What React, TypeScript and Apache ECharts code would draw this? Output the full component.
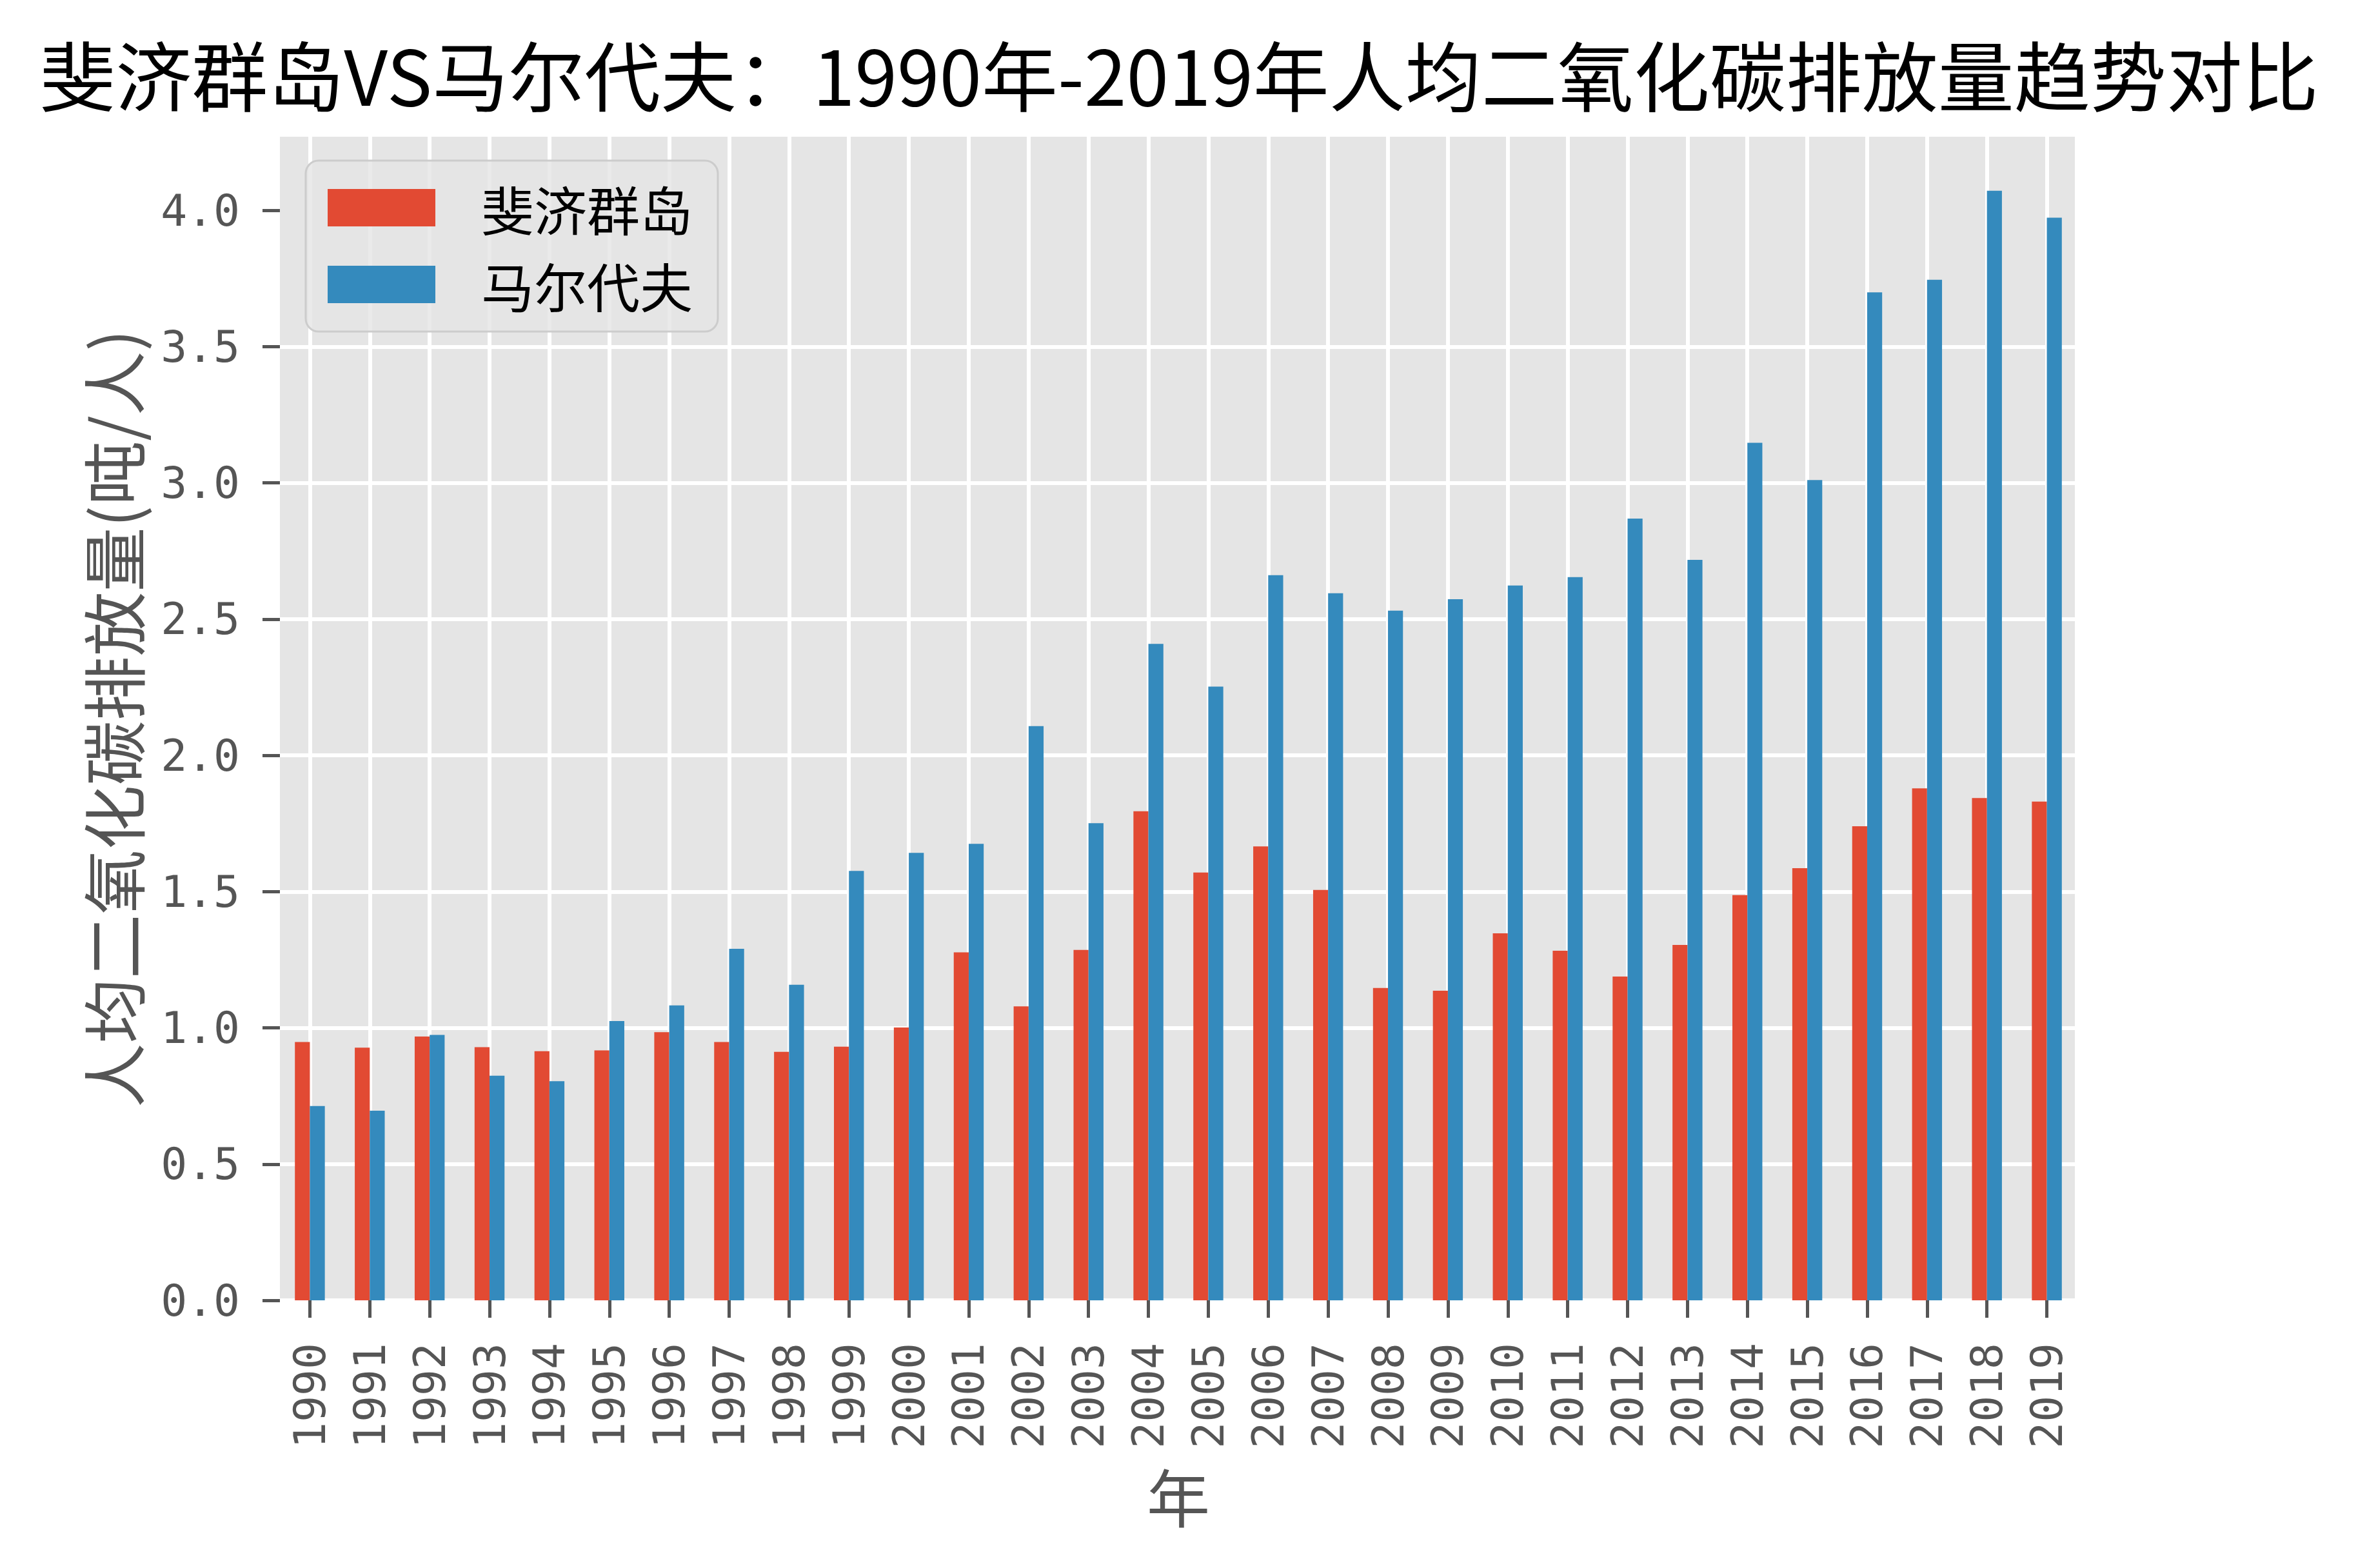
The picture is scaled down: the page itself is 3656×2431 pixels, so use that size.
import React, { useEffect, useRef } from "react";
import * as echarts from "echarts";

const years = [
  "1990", "1991", "1992", "1993", "1994", "1995", "1996", "1997", "1998", "1999",
  "2000", "2001", "2002", "2003", "2004", "2005", "2006", "2007", "2008", "2009",
  "2010", "2011", "2012", "2013", "2014", "2015", "2016", "2017", "2018", "2019",
];

const fijiValues = [
  0.948, 0.927, 0.968, 0.929, 0.914, 0.917, 0.984, 0.948, 0.912, 0.931,
  1.001, 1.277, 1.079, 1.286, 1.795, 1.570, 1.666, 1.506, 1.146, 1.136,
  1.347, 1.283, 1.188, 1.304, 1.487, 1.586, 1.740, 1.879, 1.843, 1.830,
];

const maldivesValues = [
  0.713, 0.696, 0.974, 0.824, 0.804, 1.025, 1.082, 1.290, 1.158, 1.576,
  1.642, 1.675, 2.107, 1.751, 2.409, 2.252, 2.661, 2.595, 2.531, 2.573,
  2.623, 2.654, 2.869, 2.717, 3.147, 3.010, 3.699, 3.745, 4.072, 3.973,
];

const seriesNames = ["斐济群岛", "马尔代夫"];
const yTicks = [0, 0.5, 1.0, 1.5, 2.0, 2.5, 3.0, 3.5, 4.0];
const yMax = 4.27;

const titleText = "斐济群岛VS马尔代夫：1990年-2019年人均二氧化碳排放量趋势对比";
const yName = "人均二氧化碳排放量(吨/人)";
const xName = "年";

const CJK = "'Noto Sans CJK SC', 'Noto Sans', sans-serif";
const MONO = "'DejaVu Sans Mono', 'Liberation Mono', monospace";

export default function App() {
  const ref = useRef<HTMLDivElement>(null);

  useEffect(() => {
    if (!ref.current) return;
    const chart = echarts.init(ref.current, null, { renderer: "svg" });

    // helper axis: half-category slots so that grid lines fall on category centres
    const halfSlots = years.flatMap((y) => [y + "a", y + "b"]);

    const option: any = {
      animation: false,
      backgroundColor: "#ffffff",
      title: {
        text: titleText,
        left: "center",
        top: 48,
        textStyle: { fontSize: 118, fontWeight: "normal", color: "#000000", fontFamily: CJK },
      },
      legend: {
        data: seriesNames,
        orient: "vertical",
        left: 474,
        top: 249,
        icon: "rect",
        itemWidth: 167,
        itemHeight: 58,
        itemGap: 37,
        padding: [32, 39, 32, 34],
        backgroundColor: "rgba(229,229,229,0.8)",
        borderColor: "#cccccc",
        borderWidth: 3,
        borderRadius: 20,
        textStyle: {
          fontSize: 82,
          color: "#000000",
          fontFamily: CJK,
          lineHeight: 58,
          padding: [0, 0, 0, 66],
        },
      },
      grid: {
        left: 434,
        right: 436,
        top: 212,
        bottom: 415,
        show: true,
        backgroundColor: "#E5E5E5",
        borderWidth: 0,
        containLabel: false,
      },
      xAxis: [
        {
          type: "category",
          data: years,
          boundaryGap: true,
          name: xName,
          nameLocation: "middle",
          nameGap: 252,
          nameTextStyle: { fontSize: 98, color: "#555555", fontFamily: CJK },
          axisLine: { show: false },
          axisTick: {
            show: true,
            alignWithLabel: true,
            length: 27,
            lineStyle: { color: "#555555", width: 5 },
          },
          axisLabel: {
            interval: 0,
            rotate: 90,
            margin: 66,
            fontSize: 68,
            color: "#555555",
            fontFamily: MONO,
          },
          splitLine: { show: false },
        },
        {
          type: "category",
          data: halfSlots,
          boundaryGap: true,
          position: "bottom",
          axisLine: { show: false },
          axisTick: { show: false },
          axisLabel: { show: false },
          splitLine: {
            show: true,
            interval: (index: number) => index % 2 === 1,
            lineStyle: { color: "#ffffff", width: 6 },
          },
        },
      ],
      yAxis: {
        type: "value",
        min: 0,
        max: yMax,
        interval: 0.5,
        name: yName,
        nameLocation: "middle",
        nameGap: 212,
        nameRotate: 90,
        nameTextStyle: { fontSize: 100, color: "#555555", fontFamily: CJK },
        axisLine: { show: false },
        axisTick: {
          show: true,
          length: 27,
          customValues: yTicks,
          lineStyle: { color: "#555555", width: 5 },
        },
        axisLabel: {
          margin: 62,
          fontSize: 68,
          color: "#555555",
          fontFamily: MONO,
          customValues: yTicks,
          formatter: (v: number) =>
            Math.abs(v / 0.5 - Math.round(v / 0.5)) < 1e-6 ? v.toFixed(1) : "",
        },
        splitLine: {
          show: true,
          showMaxLine: false,
          lineStyle: { color: "#ffffff", width: 6 },
        },
      },
      series: [
        {
          name: seriesNames[0],
          type: "bar",
          xAxisIndex: 0,
          data: fijiValues,
          barWidth: "25%",
          barGap: "0%",
          itemStyle: { color: "#E24A33" },
        },
        {
          name: seriesNames[1],
          type: "bar",
          xAxisIndex: 0,
          data: maldivesValues,
          barWidth: "25%",
          barGap: "0%",
          itemStyle: { color: "#348ABD" },
        },
      ],
    };

    chart.setOption(option);
    return () => chart.dispose();
  }, []);

  return (
    <div
      ref={ref}
      style={{ position: "absolute", left: 0, top: 0, width: 3656, height: 2431 }}
    />
  );
}
